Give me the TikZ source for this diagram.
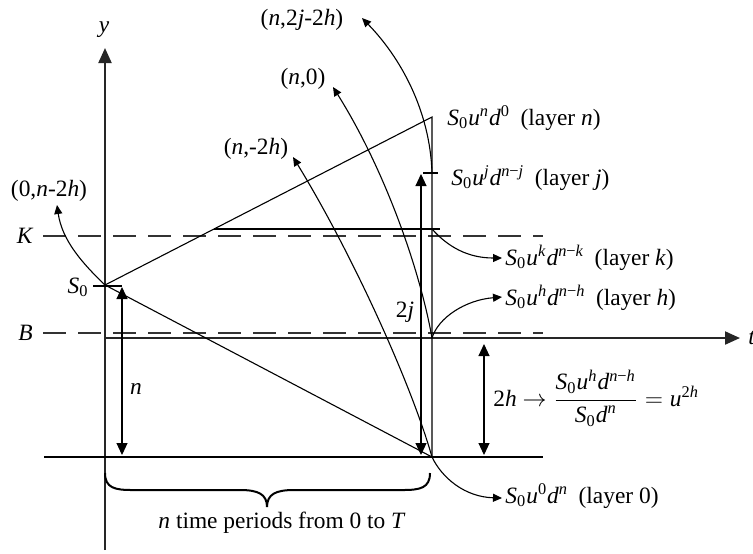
\documentclass[tikz,border=0pt]{standalone}
\usepackage{fontspec}
\setmainfont{Liberation Serif}
\usetikzlibrary{arrows.meta}
\newcommand{\iv}[1]{\textit{#1}}
\newcommand{\Sz}{\iv{S}\textsubscript{0}}
\newcommand{\spx}[1]{\textsuperscript{#1}}
\newcommand{\lyr}[3]{\Sz\iv{u}\spx{#1}\iv{d}\spx{#2}\hspace{0.45em}(layer #3)}
\begin{document}
\begin{tikzpicture}[x=0.5pt,y=-0.5pt,
  every node/.style={inner sep=0pt, font=\fontsize{11.7}{14}\selectfont},
  axisline/.style={line width=1pt, draw=black!85, -{Triangle[length=7.5pt,width=6.5pt]}},
  thinline/.style={line width=0.55pt},
  dashln/.style={line width=0.8pt, draw=black!80, dash pattern=on 11.5pt off 6pt},
  dblarrow/.style={line width=0.55pt, {Triangle[length=6pt,width=5.5pt]}-{Triangle[length=6pt,width=5.5pt]}},
  pointer/.style={line width=0.55pt, -{Triangle[length=4.5pt,width=4pt]}},
  bracestyle/.style={line width=1pt}
]
\useasboundingbox (0,0) rectangle (753,553);
% key points
\coordinate (S0) at (105,285);
\coordinate (Tn) at (432,117);
\coordinate (Lj) at (432,173);
\coordinate (Kx) at (432,229);
\coordinate (Ks) at (214,229);
\coordinate (Ke) at (440,229);
\coordinate (Hn) at (432,338);
\coordinate (Zn) at (432,457);
\coordinate (yb) at (105,550);
\coordinate (yt) at (105,48);
\coordinate (tb) at (105,338);
\coordinate (tt) at (740,338);
% tips of pointers
\coordinate (p1) at (362,18);
\coordinate (p2) at (333,87);
\coordinate (p3) at (293,157);
\coordinate (p4) at (57,205);
\coordinate (pk) at (502,258);
\coordinate (ph) at (502,297);
\coordinate (p0) at (502,498);
% dashed / solid levels
\coordinate (KdL) at (43,236); \coordinate (KdR) at (543,236);
\coordinate (BdL) at (43,333); \coordinate (BdR) at (543,333);
\coordinate (ZL) at (44,457);  \coordinate (ZR) at (543,457);
\coordinate (tkL) at (93,286); \coordinate (tkR) at (122,286);
\coordinate (jL) at (423,173); \coordinate (jR) at (438,173);
% double arrows
\coordinate (na) at (122,287); \coordinate (nb) at (122,455);
\coordinate (ja) at (421,174); \coordinate (jb) at (421,455);
\coordinate (ha) at (484,344); \coordinate (hb) at (484,455);

% axes
\draw[axisline] (yb) -- (yt);
\draw[axisline] (tb) -- (tt);
\node[anchor=center] (ylab) at (104,30) {\iv{y}};
\node[anchor=west] (tlab) at (748,338) {\iv{t}};

% dashed barrier levels
\draw[dashln] (KdL) -- (KdR);
\draw[dashln] (BdL) -- (BdR);
\node[anchor=east] (Klab) at (34,236) {\iv{K}};
\node[anchor=east] (Blab) at (33,333) {\iv{B}};

% lattice outline
\draw[thinline] (S0) -- (Tn) -- (Zn) -- cycle;
\draw[thinline] (Ks) -- (Ke);
\draw[thinline] (ZL) -- (ZR);
\draw[thinline] (tkL) -- (tkR);
\draw[thinline] (jL) -- (jR);
\node[anchor=base east] (S0lab) at (89,293) {\Sz};

% height arrows
\draw[dblarrow] (na) -- (nb);
\draw[dblarrow] (ja) -- (jb);
\draw[dblarrow] (ha) -- (hb);
\node[anchor=base] (nlab) at (136,394) {\iv{n}};
\node[anchor=base] (jlab) at (405,317) {2\iv{j}};
\node[anchor=west] (hlab) at (493,398) {2\iv{h} $\displaystyle\rightarrow\frac{\mbox{\Sz\iv{u}\spx{\iv{h}}\iv{d}\spx{\iv{n}−\iv{h}}}}{\mbox{\Sz\iv{d}\spx{\iv{n}}}}=\mbox{\iv{u}\spx{2\iv{h}}}$};

% layer labels
\node[anchor=base west] (ln) at (447,125) {\lyr{\iv{n}}{0}{\iv{n}}};
\node[anchor=base west] (lj) at (451,185) {\lyr{\iv{j}}{\iv{n}−\iv{j}}{\iv{j}}};
\node[anchor=base west] (lk) at (505,265) {\lyr{\iv{k}}{\iv{n}−\iv{k}}{\iv{k}}};
\node[anchor=base west] (lh) at (505,305) {\lyr{\iv{h}}{\iv{n}−\iv{h}}{\iv{h}}};
\node[anchor=base west] (l0) at (505,503) {\Sz\iv{u}\spx{0}\iv{d}\spx{\iv{n}}\hspace{0.45em}(layer 0)};

\draw[pointer] (Kx) .. controls (448,247) and (468,258) .. (pk);
\draw[pointer] (Hn) .. controls (438,318) and (465,300) .. (ph);
\draw[pointer] (Zn) .. controls (442,478) and (465,497) .. (p0);

% coordinate pointers
\node (c1) at (302,20) {(\iv{n},2\iv{j}-2\iv{h})};
\node (c2) at (303,79) {(\iv{n},0)};
\node (c3) at (256,149) {(\iv{n},-2\iv{h})};
\node (c4) at (49,191) {(0,\iv{n}-2\iv{h})};
\draw[pointer] (Lj) .. controls (430,110) and (400,57) .. (p1);
\draw[pointer] (Hn) .. controls (420,270) and (385,170) .. (p2);
\draw[pointer] (Zn) .. controls (410,380) and (350,250) .. (p3);
\draw[pointer] (S0) .. controls (82,263) and (62,240) .. (p4);

% brace
\coordinate (brL) at (105,473);
\coordinate (brR) at (430,473);
\coordinate (brM) at (267,507);
\draw[bracestyle] (brL) .. controls (105,488) and (115,490) .. (132,490)
  -- (240,490) .. controls (258,490) and (267,494) .. (brM)
  .. controls (267,494) and (276,490) .. (294,490)
  -- (403,490) .. controls (420,490) and (430,488) .. (brR);
\node[anchor=base] (period) at (282,528) {\iv{n} time periods from 0 to \iv{T}};
\end{tikzpicture}
\end{document}
